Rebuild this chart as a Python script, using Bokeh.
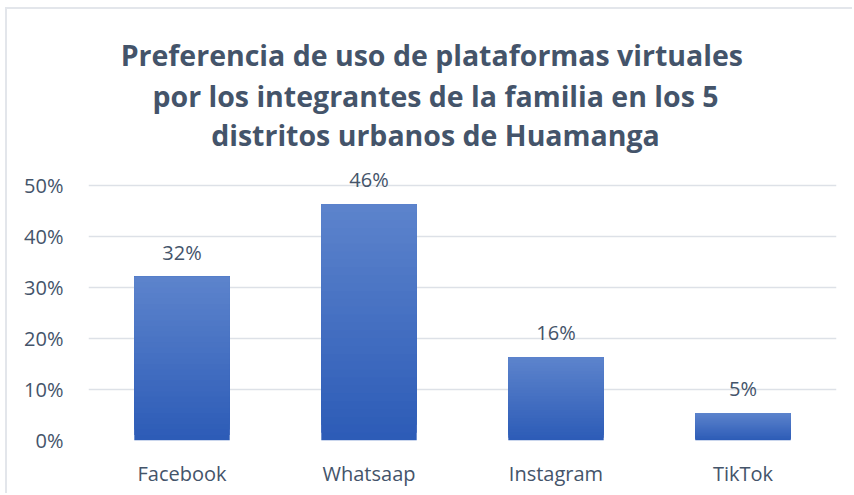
from bokeh.plotting import figure
from bokeh.models import Label, FactorRange, Range1d, FixedTicker, LabelSet, ColumnDataSource, CustomJSTickFormatter
from bokeh.core.properties import value
from bokeh.embed import file_html
from bokeh.resources import INLINE

categories = ["Facebook", "Whatsaap", "Instagram", "TikTok"]
values = [0.321, 0.463, 0.163, 0.054]
y_ticks = [0.0, 0.1, 0.2, 0.3, 0.4, 0.5]
title_lines = ["Preferencia  de uso de plataformas virtuales",
               "por los integrantes de la familia en los 5",
               "distritos urbanos de Huamanga"]

TXT = "#44546A"
FONT = "Open Sans"
W, H = 847, 486

# frame spans the full height; the title sits in its empty upper part
p = figure(width=W, height=H, x_range=FactorRange(*categories),
           y_range=Range1d(0, 431 / 510), output_backend="svg", toolbar_location=None,
           min_border_left=81, min_border_right=18, min_border_bottom=55, min_border_top=0)
p.outline_line_color = None
p.styles = {"margin-left": "5px", "margin-top": "7px",
            "border-left": "2px solid #E3E6EB", "border-top": "2px solid #E3E6EB"}

# title lines as labels in screen units (relative to the frame's bottom-left)
centers_above_frame = [386, 345, 306]
for line, yb in zip(title_lines, centers_above_frame):
    p.add_layout(Label(x=347, y=yb, x_units="screen", y_units="screen", text=line,
                       text_align="center", text_baseline="middle",
                       text_font=FONT, text_font_size="28.5px", text_font_style="bold",
                       text_color=TXT))

# gradient bars built from overlapping strips of each bar
n = 30
top_c = (0x5C, 0x83, 0xCC)
bot_c = (0x2D, 0x5C, 0xB7)
xs, bs, ts, cs = [], [], [], []
for c, v in zip(categories, values):
    for k in range(n):
        f = k / (n - 1)
        rgb = tuple(int(round(bot_c[j] + (top_c[j] - bot_c[j]) * f)) for j in range(3))
        xs.append(c)
        bs.append(v * k / n)
        ts.append(v)
        cs.append("#%02x%02x%02x" % rgb)
p.vbar(x=xs, bottom=bs, top=ts, width=0.51, fill_color=cs, line_color=None)

src = ColumnDataSource(dict(x=categories, y=values,
                            t=[f"{round(v*100)}%" for v in values]))
p.add_layout(LabelSet(x="x", y="y", text="t", source=src, x_offset=0, y_offset=17,
                      text_align="center", text_baseline="alphabetic",
                      text_font=value(FONT), text_font_size=value("20px"),
                      text_color=TXT))

p.yaxis.ticker = FixedTicker(ticks=y_ticks)
p.yaxis.formatter = CustomJSTickFormatter(code="return Math.round(tick*100) + '%';")
for ax in (p.xaxis[0], p.yaxis[0]):
    ax.axis_line_color = None
    ax.major_tick_line_color = None
    ax.minor_tick_line_color = None
    ax.major_label_text_font = FONT
    ax.major_label_text_font_size = "20px"
    ax.major_label_text_color = TXT
p.yaxis.major_label_standoff = 19
p.xaxis.major_label_standoff = 13
p.xgrid.grid_line_color = None
p.ygrid.grid_line_color = "#DDE1E7"
p.ygrid.grid_line_width = 1.5

open("out.html", "w").write(file_html(p, INLINE))
